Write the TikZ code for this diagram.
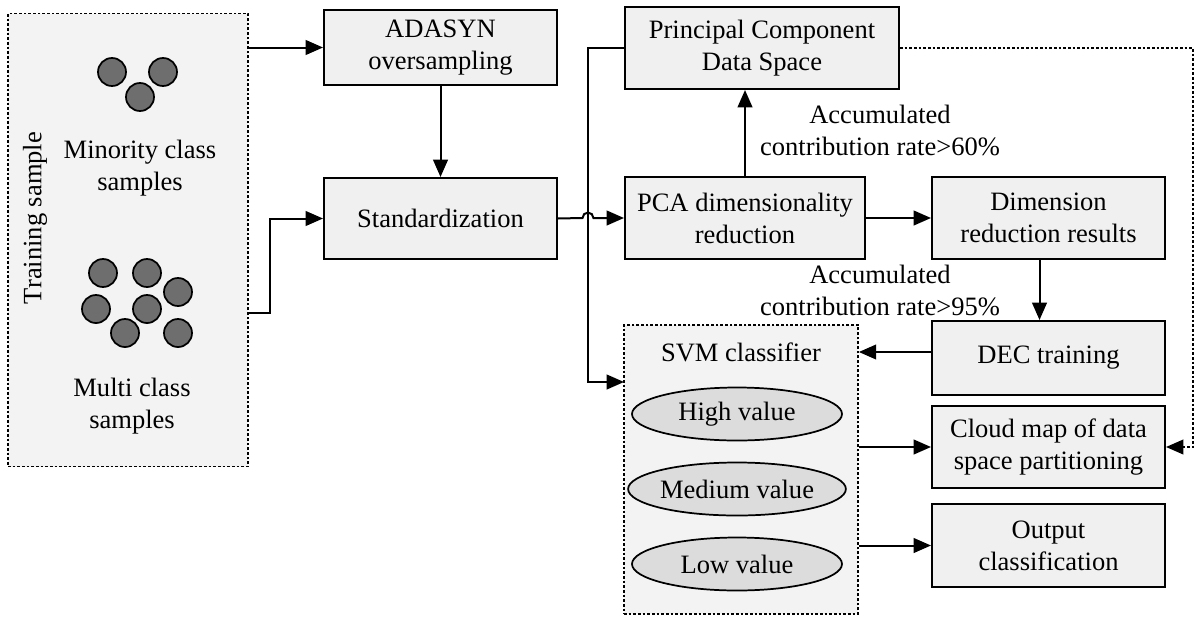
\documentclass[tikz,border=0pt]{standalone}
\usepackage{fontspec}
\setmainfont{Liberation Serif}
\usetikzlibrary{arrows.meta,shapes.geometric}
\definecolor{boxfill}{HTML}{F0F0F0}
\definecolor{panelfill}{HTML}{F3F3F3}
\definecolor{dotgray}{HTML}{6E6E6E}
\definecolor{ellfill}{HTML}{DCDCDC}
\newcommand\fs{\fontsize{19.9pt}{24pt}\selectfont}
\begin{document}
\begin{tikzpicture}[x=0.75pt,y=-0.75pt,
  sz/.style 2 args={minimum width=#1*0.75pt, minimum height=#2*0.75pt},
  box/.style={draw, fill=boxfill, line width=1.5pt, align=center, inner sep=0pt, font=\fs},
  dotbox/.style={draw, fill=panelfill, line width=1.3pt, dash pattern=on 2pt off 1.5pt, inner sep=0pt},
  txt/.style={align=center, inner sep=0pt, font=\fs},
  dot/.style={circle, draw, fill=dotgray, line width=1.3pt, minimum size=21pt, inner sep=0pt},
  val/.style={ellipse, draw, fill=ellfill, line width=1.3pt, minimum width=157.5pt, minimum height=39.75pt, inner sep=0pt, font=\fs},
  arr/.style={line width=1.5pt, -{Triangle[length=13pt,width=11pt]}},
  dotarr/.style={line width=1.3pt, dash pattern=on 2pt off 1.5pt, -{Triangle[length=13pt,width=11pt]}}
]
\useasboundingbox (0,0) rectangle (1198,621);

% training panel
\node[dotbox, sz={240}{453}] (train) at (128,240) {};
\node[txt, rotate=90] (tlab) at (35,218) {Training sample};
\node[dot] (m1) at (112,72) {};
\node[dot] (m2) at (163,72) {};
\node[dot] (m3) at (140,97) {};
\node[txt] (minlab) at (140,168) {Minority class\\samples};
\node[dot] (k1) at (103,273) {};
\node[dot] (k2) at (147,273) {};
\node[dot] (k3) at (178,292) {};
\node[dot] (k4) at (96,309) {};
\node[dot] (k5) at (147,309) {};
\node[dot] (k6) at (125,333) {};
\node[dot] (k7) at (178,333) {};
\node[txt] (multlab) at (132,406) {Multi class\\samples};

% boxes
\node[box, sz={233}{75}] (adasyn) at (440.5,47.5) {ADASYN\\oversampling};
\node[box, sz={233}{81}] (std) at (440.5,218.5) {Standardization};
\node[box, sz={274}{82}] (pcds) at (762,48) {Principal Component\\Data Space};
\node[box, sz={240}{82}] (pca) at (745,218) {PCA dimensionality\\reduction};
\node[box, sz={233}{82}] (drr) at (1048.5,218) {Dimension\\reduction results};
\node[box, sz={233}{74}] (dec) at (1048.5,358) {DEC training};
\node[box, sz={233}{82}] (cloud) at (1048.5,447) {Cloud map of data\\space partitioning};
\node[box, sz={233}{83}] (out) at (1048.5,545.5) {Output\\classification};

% SVM panel
\node[dotbox, sz={234}{289}] (svm) at (741,469.5) {};
\node[txt] (svmlab) at (741,352) {SVM classifier};
\node[val] (hi) at (737,414) {High value};
\node[val] (med) at (737,489) {Medium value};
\node[val] (low) at (737,564) {Low value};

% labels
\node[txt] (lab60) at (880,130) {Accumulated\\contribution rate>60\%};
\node[txt] (lab95) at (880,290) {Accumulated\\contribution rate>95\%};

% helper coordinates
\coordinate (t2) at (248,313);
\coordinate (bend) at (270,313);
\coordinate (hopL) at (582.5,218);
\coordinate (vtop) at (588,48);
\coordinate (svmin) at (624,382);
\coordinate (dR) at (1193,447);

% connectors
\draw[arr] (adasyn.west -| train.east) -- (adasyn.west);
\draw[arr] (t2) -- (bend) |- (std.west);
\draw[arr] (adasyn.south) -- (std.north);
\draw[arr] (std.east) -- (hopL) arc[start angle=180, end angle=0, radius=4.1pt] -- (pca.west);
\draw[arr] (pcds.west) -- (vtop) |- (svmin);
\draw[arr] (pca.north) -- (pca.north |- pcds.south);
\draw[arr] (pca.east) -- (drr.west);
\draw[arr] ([xshift=-6.75pt]drr.south) -- ([xshift=-6.75pt]dec.north);
\draw[arr] ([yshift=4.5pt]dec.west) -- ([yshift=4.5pt]dec.west -| svm.east);
\draw[arr] (cloud.west -| svm.east) -- (cloud.west);
\draw[arr] (out.west -| svm.east) -- (out.west);
\draw[dotarr] (pcds.east) -| (dR) -- (cloud.east);
\end{tikzpicture}
\end{document}
